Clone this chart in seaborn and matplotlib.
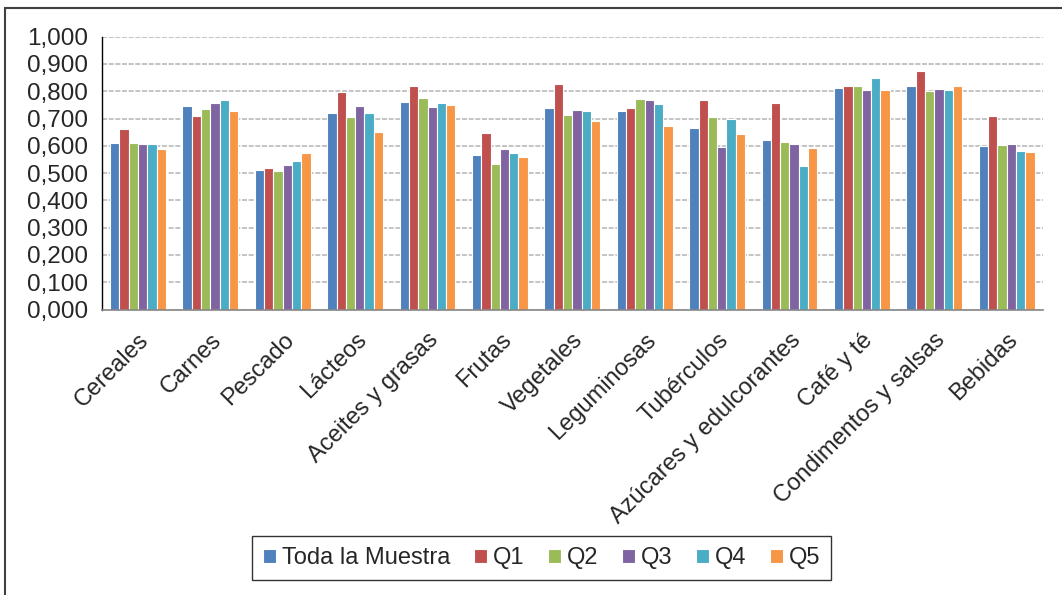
"""Índice por grupo de alimentos, toda la muestra y quintiles"""

import pandas as pd
import seaborn as sns
import matplotlib.pyplot as plt
from matplotlib.patches import Rectangle
from matplotlib.ticker import FuncFormatter, MultipleLocator, FixedLocator

categorias = [
    "Cereales", "Carnes", "Pescado", "Lácteos", "Aceites y grasas", "Frutas",
    "Vegetales", "Leguminosas", "Tubérculos", "Azúcares y edulcorantes",
    "Café y té", "Condimentos y salsas", "Bebidas",
]
series = ["Toda la Muestra", "Q1", "Q2", "Q3", "Q4", "Q5"]

toda = [0.609, 0.747, 0.512, 0.719, 0.760, 0.568, 0.737, 0.729, 0.664, 0.621, 0.811, 0.820, 0.599]
q1 = [0.661, 0.711, 0.518, 0.798, 0.819, 0.647, 0.828, 0.740, 0.769, 0.756, 0.818, 0.874, 0.711]
q2 = [0.609, 0.736, 0.507, 0.707, 0.774, 0.532, 0.713, 0.771, 0.707, 0.614, 0.819, 0.800, 0.603]
q3 = [0.605, 0.757, 0.528, 0.746, 0.741, 0.588, 0.730, 0.768, 0.595, 0.605, 0.806, 0.808, 0.605]
q4 = [0.608, 0.769, 0.544, 0.720, 0.756, 0.573, 0.727, 0.753, 0.698, 0.527, 0.847, 0.803, 0.581]
q5 = [0.588, 0.727, 0.572, 0.652, 0.748, 0.559, 0.691, 0.672, 0.642, 0.592, 0.804, 0.818, 0.578]

palette = ["#4F81BD", "#C0504D", "#9BBB59", "#8064A2", "#4BACC6", "#F79646"]

df = pd.DataFrame(
    {"categoria": categorias, series[0]: toda, series[1]: q1, series[2]: q2,
     series[3]: q3, series[4]: q4, series[5]: q5}
).melt(id_vars="categoria", var_name="serie", value_name="valor")

sns.set_theme(style="white")
plt.rcParams["font.family"] = ["Liberation Sans", "DejaVu Sans"]

fig, ax = plt.subplots(figsize=(10.62, 5.95), dpi=100)
fig.subplots_adjust(left=0.0958, right=0.982, top=0.9383, bottom=0.4798)

sns.barplot(
    data=df, x="categoria", y="valor", hue="serie", hue_order=series,
    palette=palette, width=0.77, edgecolor="white", linewidth=0.8,
    saturation=1, ax=ax,
)

ax.set_ylim(0, 1.0)
ax.set_xlim(-0.5, len(categorias) - 0.5)
ax.yaxis.set_major_locator(MultipleLocator(0.1))
ax.yaxis.set_major_formatter(FuncFormatter(lambda v, _: f"{v:.3f}".replace(".", ",")))
# dashed horizontal gridlines like the spreadsheet original
ax.grid(axis="y", linestyle=(0, (3, 1)), linewidth=1.2, color="#BABABA")
ax.set_axisbelow(True)
ax.set_xlabel("")
ax.set_ylabel("")

for side in ["top", "right"]:
    ax.spines[side].set_visible(False)
ax.spines["left"].set_color("black")
ax.spines["left"].set_linewidth(1.0)
ax.spines["bottom"].set_color("#868686")
ax.spines["bottom"].set_linewidth(1.2)

ax.tick_params(axis="y", which="major", direction="out", length=5, width=1,
               color="black", labelsize=17.5, pad=5)
# category ticks sit between the groups
ax.xaxis.set_minor_locator(FixedLocator([i - 0.5 for i in range(len(categorias) + 1)]))
ax.tick_params(axis="x", which="major", length=0, labelsize=17, pad=14)
ax.tick_params(axis="x", which="minor", direction="out", length=6, width=1.2,
               color="#868686")
plt.setp(ax.get_xticklabels(), rotation=45, ha="right", rotation_mode="anchor")

handles, labels = ax.get_legend_handles_labels()
ax.legend_.remove()
leg = fig.legend(
    handles, labels, loc="center", bbox_to_anchor=(0.51, 0.062), ncol=6,
    frameon=True, fancybox=False, edgecolor="black", fontsize=17,
    handlelength=0.55, handleheight=0.55, handletextpad=0.25,
    columnspacing=1.0, borderpad=0.45,
)
leg.get_frame().set_linewidth(1.0)

# outer chart frame
fig.patches.append(Rectangle(
    (5 / 1062, -0.1), 1.2, 1.1 - 8 / 595, transform=fig.transFigure,
    fill=False, edgecolor="#404040", linewidth=1.5,
))

fig.savefig("out.png", dpi=100)
